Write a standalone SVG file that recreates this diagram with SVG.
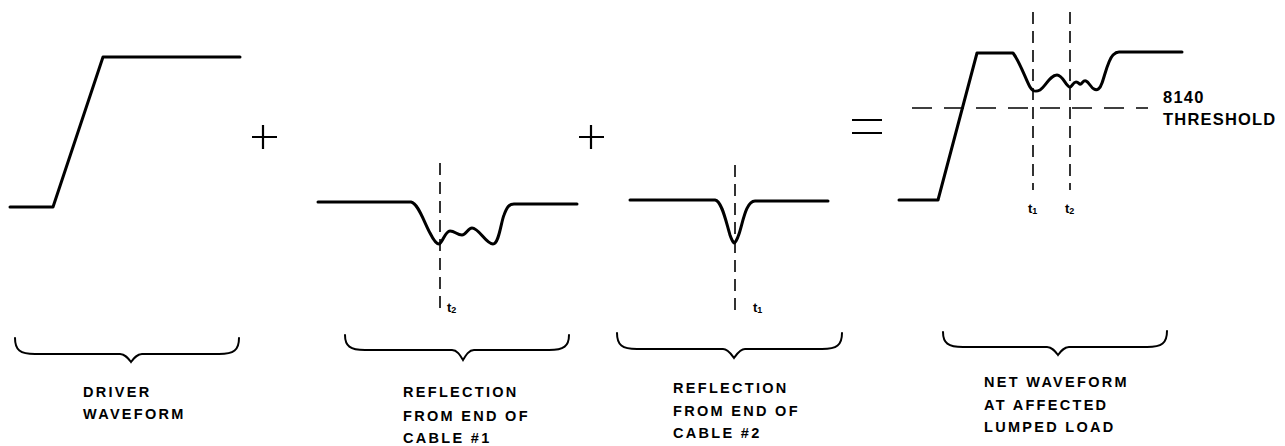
<svg xmlns="http://www.w3.org/2000/svg" width="1285" height="446" viewBox="0 0 1285 446">
<style>
.wave{fill:none;stroke:#000;stroke-width:3;stroke-linejoin:round;stroke-linecap:round}
.brace{fill:none;stroke:#000;stroke-width:2;stroke-linecap:round}
.dv{fill:none;stroke:#000;stroke-width:1.6;stroke-dasharray:12 7}
.dh{fill:none;stroke:#000;stroke-width:1.6;stroke-dasharray:20 12}
.op{fill:none;stroke:#000;stroke-width:2.2}
.lbl{font-family:"Liberation Sans",Arial,sans-serif;font-weight:bold;font-size:14.5px;letter-spacing:2.3px;fill:#000}
.thr{font-family:"Liberation Sans",Arial,sans-serif;font-weight:bold;font-size:16.5px;letter-spacing:1.2px;fill:#000}
.t{font-family:"Liberation Sans",Arial,sans-serif;font-weight:bold;font-size:13px;fill:#000}
.sub{font-size:9px}
</style>
<rect width="1285" height="446" fill="#fff"/>
<g id="driver">
<path class="wave" d="M10,207 H53 L103,57 H240"/>
<path class="brace" d="M15,338 C15,350 20,354 35,354 H120 C125,354 128,358 131,362 C134,358 137,354 142,354 H219 C234,354 239,350 239,338"/>
<text class="lbl" x="83" y="397">DRIVER</text>
<text class="lbl" x="83" y="419">WAVEFORM</text>
</g>
<g id="plus1"><path class="op" d="M252,137 H277 M263,125 V149"/></g>
<g id="reflection1">
<path class="wave" d="M318,202 H411 C418,203 424,222 430,233 C434,241 437,244 439,244 C442,244 445,231 450,231 C455,231 457,235 462,235 C466,235 468,228 472,228 C479,228 486,244 493,244 C499,244 501,222 504,215 C507,207 509,204 514,204 H577"/>
<path class="dv" d="M440,163 V313"/>
<text class="t" x="447" y="312">t<tspan class="sub" dy="1">2</tspan></text>
<path class="brace" d="M345,335 C345,346 350,350 365,350 H452 C457,350 460,355 463,360 C466,355 469,350 474,350 H549 C564,350 569,346 569,335"/>
<text class="lbl" x="403" y="397">REFLECTION</text>
<text class="lbl" x="403" y="421">FROM END OF</text>
<text class="lbl" x="403" y="443">CABLE #1</text>
</g>
<g id="plus2"><path class="op" d="M579,137 H604 M591,125 V149"/></g>
<g id="reflection2">
<path class="wave" d="M630,200 H715 C722,201 726,222 730,235 C732,241 734,243 734,243 C735,243 737,240 739,234 C743,222 746,201 755,201 H828"/>
<path class="dv" d="M735,165 V313"/>
<text class="t" x="753" y="312">t<tspan class="sub" dy="1">1</tspan></text>
<path class="brace" d="M617,333 C617,345 622,349 637,349 H723 C728,349 731,354 734,358 C737,354 740,349 745,349 H822 C837,349 842,345 842,333"/>
<text class="lbl" x="673" y="393">REFLECTION</text>
<text class="lbl" x="673" y="416">FROM END OF</text>
<text class="lbl" x="673" y="438">CABLE #2</text>
</g>
<g id="equals"><path class="op" d="M852,120 H882 M852,133 H882"/></g>
<g id="net">
<path class="wave" d="M899,200 H938 L977,53 H1013 C1020,62 1026,80 1030,87 C1033,92 1036,92 1040,90 C1046,86 1050,75 1057,75 C1063,75 1066,87 1070,87 C1072,87 1073,82 1076,82 C1079,82 1079,85 1081,84 C1083,82 1084,80 1086,81 C1089,82 1091,88 1094,89 C1097,91 1100,89 1102,83 C1105,75 1108,60 1113,55 C1115,53 1116,52 1119,52 H1182"/>
<path class="dv" d="M1033,12 V190"/>
<path class="dv" d="M1070,12 V190"/>
<path class="dh" d="M912,108 H1148"/>
<text class="t" x="1028" y="213">t<tspan class="sub" dy="1">1</tspan></text>
<text class="t" x="1065" y="213">t<tspan class="sub" dy="1">2</tspan></text>
<text class="thr" x="1163" y="103">8140</text>
<text class="thr" x="1163" y="125">THRESHOLD</text>
<path class="brace" d="M943,332 C943,343 948,347 963,347 H1047 C1052,347 1055,351 1058,355 C1061,351 1064,347 1069,347 H1147 C1162,347 1167,343 1167,331"/>
<text class="lbl" x="984" y="387">NET WAVEFORM</text>
<text class="lbl" x="984" y="410">AT AFFECTED</text>
<text class="lbl" x="984" y="432">LUMPED LOAD</text>
</g>
</svg>
